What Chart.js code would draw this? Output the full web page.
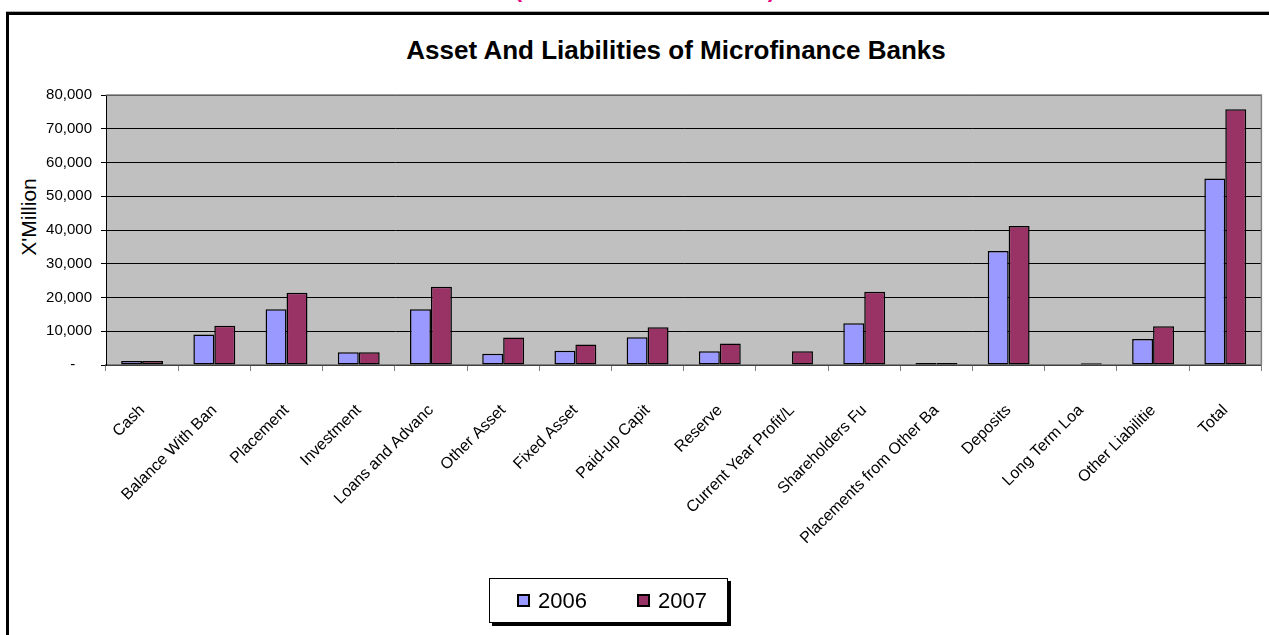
<!DOCTYPE html>
<html>
<head>
<meta charset="utf-8">
<title>Asset And Liabilities of Microfinance Banks</title>
<script src="https://cdn.jsdelivr.net/npm/chart.js@4.4.1/dist/chart.umd.min.js"></script>
<style>
  html, body { margin: 0; padding: 0; background: #fff; }
  body { width: 1269px; height: 635px; overflow: hidden; position: relative; font-family: "Liberation Sans", Arial, sans-serif; }
  #note { position: absolute; left: 0; width: 1290px; top: -21px; text-align: center; color: #e6007e;
          font: bold 22px/22px "Liberation Sans", Arial, sans-serif; white-space: nowrap; }
  #frame { position: absolute; left: 6px; top: 12px; width: 1400px; height: 700px;
           border-left: 3px solid #000; border-top: 3px solid #000; box-shadow: 0 -1px 0 #b0b0b0; }
  #title { position: absolute; left: 0; width: 1352px; top: 35px; text-align: center; color: #000;
           font: bold 26px "Liberation Sans", Arial, sans-serif; }
  #ytitle { position: absolute; left: 29px; top: 217px; transform: translate(-50%, -50%) rotate(-90deg);
            font: 21px "Liberation Sans", Arial, sans-serif; color: #000; white-space: nowrap; }
  #chart { position: absolute; left: 0; top: 0; }
  #legend { position: absolute; left: 489px; top: 578px; width: 239px; height: 45px; box-sizing: border-box;
            border: 1px solid #000; background: #fff; box-shadow: 3px 3px 0 #000;
            display: flex; align-items: center; padding-left: 27px; }
  #legend .item { display: flex; align-items: center; margin-right: 50px; }
  #legend .box { width: 13px; height: 13px; box-sizing: border-box; border: 2px solid #000; }
  #legend .label { margin-left: 8px; font-size: 22px; color: #000; }
</style>
</head>
<body>
<div id="note">(Amount in Naira Million)</div>
<div id="frame"></div>
<div id="title">Asset And Liabilities of Microfinance Banks</div>
<div id="ytitle">X'Million</div>
<canvas id="chart" width="1269" height="635"></canvas>
<div id="legend"></div>
<script>
    "use strict";

    var categories = ["Cash", "Balance With Banks", "Placements", "Investments", "Loans and Advances",
        "Other Assets", "Fixed Assets", "Paid-up Capital", "Reserves", "Current Year Profit/Loss",
        "Shareholders Fund", "Placements from Other Banks", "Deposits", "Long Term Loan",
        "Other Liabilities", "Total"];
    // the labels are cut off in the original chart
    var tickLabels = ["Cash", "Balance With Ban", "Placement", "Investment", "Loans and Advanc",
        "Other Asset", "Fixed Asset", "Paid-up Capit", "Reserve", "Current Year Profit/L",
        "Shareholders Fu", "Placements from Other Ba", "Deposits", "Long Term Loa",
        "Other Liabilitie", "Total"];
    var seriesNames = ["2006", "2007"];
    var values2006 = [1200, 9050, 16500, 3800, 16500, 3300, 4200, 8250, 4050, 0,
        12400, 600, 33750, 0, 7700, 55250];
    var values2007 = [1200, 11650, 21400, 3800, 23200, 8150, 6050, 11150, 6350, 4050,
        21700, 600, 41200, 500, 11500, 75750];
    var yMax = 80000;
    var yStep = 10000;

    var FONT = "'Liberation Sans', Arial, sans-serif";
    var COLORS = ["#9999ff", "#993366"];

    // grey plot area with a grey frame, as in Excel
    var plotFrame = {
        id: 'plotFrame',
        beforeDraw: function (chart) {
            var a = chart.chartArea;
            var ctx = chart.ctx;
            ctx.save();
            ctx.fillStyle = '#c0c0c0';
            ctx.fillRect(a.left, a.top, a.right - a.left, a.bottom - a.top);
            ctx.restore();
        },
        afterDatasetsDraw: function (chart) {
            var a = chart.chartArea;
            var ctx = chart.ctx;
            ctx.save();
            ctx.strokeStyle = '#808080';
            ctx.lineWidth = 1.5;
            ctx.beginPath();
            ctx.moveTo(a.left, a.top);
            ctx.lineTo(a.right, a.top);
            ctx.lineTo(a.right, a.bottom);
            ctx.stroke();
            ctx.restore();
        }
    };

    var ctx = document.getElementById('chart');
    var chart = new Chart(ctx, {
        type: 'bar',
        data: {
            labels: categories,
            datasets: [values2006, values2007].map(function (values, index) {
                return {
                    label: seriesNames[index],
                    data: values,
                    backgroundColor: COLORS[index],
                    borderColor: '#000',
                    borderWidth: 1.5,
                    borderSkipped: false,
                    categoryPercentage: 0.58,
                    barPercentage: 1.0
                };
            })
        },
        options: {
            responsive: false,
            devicePixelRatio: 1,
            animation: false,
            layout: { padding: { left: 14, right: 4, top: 95, bottom: 0 } },
            plugins: {
                legend: { display: false },
                title: { display: false },
                tooltip: { enabled: false }
            },
            scales: {
                x: {
                    grid: { display: true, drawOnChartArea: false, offset: true, tickLength: 6, color: '#808080' },
                    border: { color: '#808080', width: 1.5 },
                    ticks: {
                        autoSkip: false,
                        minRotation: 45,
                        maxRotation: 45,
                        padding: 30,
                        color: '#000',
                        font: { family: FONT, size: 16 },
                        callback: function (value, index) {
                            return tickLabels[index];
                        }
                    },
                    afterFit: function (scale) {
                        scale.height = 270;
                    }
                },
                y: {
                    min: 0,
                    max: yMax,
                    grid: { color: '#000', tickLength: 5, lineWidth: 1 },
                    border: { color: '#000', width: 1 },
                    ticks: {
                        stepSize: yStep,
                        padding: 9,
                        color: '#000',
                        font: { family: FONT, size: 15 },
                        callback: function (value) {
                            return value === 0 ? '-    ' : value.toLocaleString('en-US');
                        }
                    },
                    afterFit: function (scale) {
                        scale.width = 92;
                    }
                }
            }
        },
        plugins: [plotFrame]
    });

    // legend in a shadowed box, built from the datasets
    var legend = document.getElementById('legend');
    chart.data.datasets.forEach(function (dataset) {
        var item = document.createElement('div');
        item.className = 'item';
        var box = document.createElement('span');
        box.className = 'box';
        box.style.background = dataset.backgroundColor;
        var label = document.createElement('span');
        label.className = 'label';
        label.textContent = dataset.label;
        item.appendChild(box);
        item.appendChild(label);
        legend.appendChild(item);
    });
</script>
</body>
</html>
